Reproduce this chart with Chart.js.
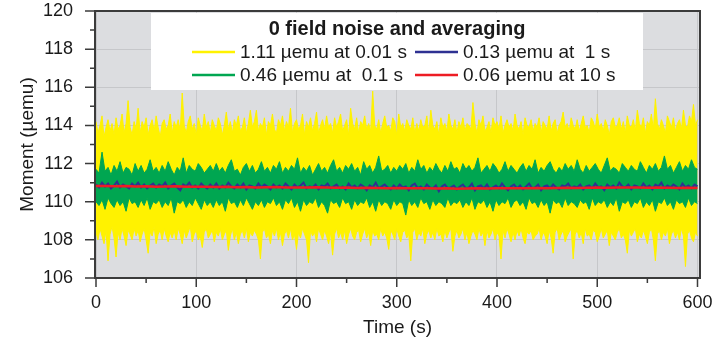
<!DOCTYPE html>
<html>
<head>
<meta charset="utf-8">
<style>
  html, body { margin: 0; padding: 0; background: #fff; }
  #noise { display: block; }
</style>
<script src="https://cdn.jsdelivr.net/npm/chart.js@4.4.1/dist/chart.umd.min.js"></script>
</head>
<body>
<canvas id="noise" width="728" height="341"></canvas>
<script>
// sampling steps (s) of the arrays below
const yellowStep = 2;
const greenStep = 3;
const blueStep = 3;
const redStep = 10;

// 0.01 s data: upper and lower envelope
const yellowHi = [
  114.2,113.6,114.0,114.5,113.4,113.9,114.3,113.7,114.1,113.5,114.4,113.8,114.0,114.6,113.6,114.1,115.3,113.9,113.5,114.2,
  113.8,114.9,113.6,114.2,113.9,114.4,113.5,114.0,114.3,113.7,114.5,113.9,113.4,114.1,114.3,113.8,114.0,114.6,113.6,114.2,
  113.9,114.3,113.7,115.7,114.0,113.6,114.2,114.5,113.8,114.1,113.5,114.4,114.0,113.7,114.6,113.9,114.2,113.6,114.3,114.0,
  113.7,114.4,114.1,113.5,114.0,114.7,113.8,114.2,113.6,114.3,114.0,114.5,113.7,113.9,114.4,113.6,114.1,114.8,113.9,114.2,
  114.8,113.7,114.1,113.9,114.4,113.5,114.2,114.0,114.6,113.8,113.6,114.3,114.0,114.5,113.7,114.2,113.9,114.9,113.6,114.1,
  114.3,113.8,114.0,114.6,113.5,114.2,113.9,114.4,113.7,114.1,114.7,113.6,114.0,114.3,113.8,114.5,113.9,114.1,113.6,114.4,
  113.9,114.2,114.6,113.7,114.0,114.3,113.5,114.9,114.1,113.8,114.4,113.6,114.2,114.0,114.5,113.8,114.1,113.7,115.8,114.0,
  113.8,114.3,113.6,114.1,114.5,113.9,114.0,113.7,114.4,114.2,113.5,114.6,113.9,114.1,113.7,114.3,114.0,113.8,114.4,113.6,
  114.1,113.7,114.3,113.9,114.0,114.5,113.6,114.8,114.0,113.8,114.2,113.5,114.4,113.9,114.1,113.7,114.6,114.0,113.8,114.3,
  113.6,114.2,113.9,114.4,113.7,114.1,114.0,113.8,115.2,114.1,113.6,114.3,114.0,114.5,113.7,113.9,114.2,113.6,114.4,114.0,
  114.2,113.8,114.5,113.6,114.0,114.3,113.9,114.1,113.7,114.6,114.0,113.8,114.2,113.5,114.4,114.0,113.9,114.3,113.7,114.1,
  113.9,114.4,113.6,114.2,114.0,113.8,114.5,113.7,114.1,114.3,113.6,114.0,114.2,114.7,113.9,114.1,113.7,114.4,114.0,113.8,
  114.3,113.7,114.1,114.5,113.9,114.0,113.6,114.4,114.2,113.8,114.6,113.9,114.1,113.7,114.3,114.0,113.5,114.2,114.4,113.9,
  114.0,114.4,113.8,114.2,113.6,114.5,114.0,113.9,114.3,113.7,114.8,114.1,113.9,114.4,113.6,114.2,114.0,114.6,113.8,115.4,
  114.1,113.8,114.3,114.0,113.6,114.5,114.2,113.9,114.4,113.7,114.1,114.3,113.8,114.8,114.0,113.9,114.5,114.2,115.1,114.0,
  114.3
];
const yellowLo = [
  108.4,108.0,108.6,108.2,107.8,108.5,106.9,108.3,108.7,108.1,107.1,108.4,108.0,108.6,108.2,107.7,108.5,108.3,108.0,108.6,
  108.2,108.5,107.9,108.3,108.6,108.0,107.3,108.4,108.2,108.7,107.8,108.3,108.5,108.0,108.6,108.2,107.9,108.4,108.1,108.5,
  108.0,108.6,108.3,107.8,108.5,108.1,108.4,108.7,107.9,108.3,108.5,108.0,108.2,107.6,108.4,108.6,108.1,108.3,108.5,107.9,
  108.4,108.2,108.6,108.0,108.3,108.5,107.45,108.2,108.6,108.0,108.4,107.8,108.3,108.5,108.1,108.6,107.9,108.4,108.2,108.5,
  108.3,108.0,107.0,108.4,108.6,108.1,108.3,107.8,108.5,108.2,108.6,108.0,108.4,107.7,108.3,108.5,108.1,108.6,108.0,108.3,
  107.5,108.4,108.1,108.6,108.3,108.0,106.8,108.5,108.2,108.4,107.9,108.6,108.3,108.0,108.5,108.2,107.8,108.4,107.2,108.3,
  108.6,108.1,108.4,108.0,108.5,107.8,108.3,108.6,108.2,108.0,108.4,108.5,107.9,108.3,108.6,108.1,108.4,107.7,108.5,108.2,
  108.3,108.0,108.6,108.2,108.4,108.1,107.5,108.5,108.3,108.0,108.6,108.2,107.9,108.4,108.5,108.1,108.3,106.9,108.4,108.6,
  108.0,108.4,108.2,108.6,107.8,108.3,108.5,108.1,108.4,108.0,108.6,108.2,108.3,107.9,108.5,108.1,108.4,108.6,107.4,108.2,
  108.5,108.1,108.3,108.6,108.0,108.4,107.8,108.2,108.5,108.3,108.0,108.6,108.2,108.4,107.7,108.5,108.1,108.3,108.6,108.0,
  108.4,108.2,107.0,108.5,108.1,108.6,108.3,107.9,108.4,108.0,108.5,108.2,108.6,108.1,107.8,108.4,108.3,108.5,108.0,108.2,
  108.3,108.6,108.0,108.4,108.2,107.8,108.5,108.1,107.3,108.4,108.6,108.0,108.3,108.5,107.9,108.2,108.4,108.6,107.0,108.3,
  108.5,108.1,108.4,107.8,108.6,108.2,108.3,108.0,108.5,108.4,107.9,108.2,108.6,108.1,108.3,108.5,107.7,108.4,108.2,108.0,
  108.4,108.6,108.1,108.3,108.0,107.3,108.5,108.2,108.4,108.6,107.9,108.3,108.1,108.5,108.2,107.8,108.4,108.6,108.0,106.9,
  108.3,108.5,108.0,108.4,108.2,108.6,107.8,108.3,108.5,108.1,108.4,108.0,108.6,108.2,106.6,108.3,108.5,108.1,107.9,108.4,
  108.2
];

// 0.1 s data: upper and lower envelope
const greenHi = [
  111.7,111.5,112.6,111.6,111.8,111.4,111.9,111.6,112.1,111.5,111.8,111.7,111.4,112.0,111.6,111.9,111.5,111.7,112.2,111.6,
  111.8,111.5,111.9,111.6,112.1,111.7,111.4,111.8,111.6,112.3,111.5,111.9,111.7,111.6,112.0,111.8,111.5,111.7,111.9,111.6,
  112.0,111.6,111.8,111.5,111.9,112.2,111.6,111.7,111.4,111.8,112.0,111.6,111.9,111.5,111.7,112.1,111.6,111.8,111.5,111.9,
  111.7,112.1,111.5,111.8,111.6,111.9,111.7,112.3,111.5,111.8,111.6,111.9,111.4,111.7,112.0,111.6,111.8,111.5,111.9,112.2,
  111.6,111.8,111.5,111.9,111.7,112.0,111.6,111.8,111.4,112.1,111.7,111.9,111.5,111.8,112.4,111.6,111.7,111.9,111.5,111.8,
  111.6,111.9,111.7,112.0,111.5,111.8,111.6,112.2,111.7,111.9,111.5,111.8,111.6,112.0,111.7,111.5,111.9,111.6,112.1,111.7,
  111.8,111.5,112.0,111.7,111.9,111.6,111.8,112.3,111.5,111.7,111.9,111.6,112.0,111.8,111.5,111.7,112.1,111.6,111.9,111.7,
  111.5,111.8,112.0,111.6,111.9,111.7,112.2,111.5,111.8,111.6,111.9,112.1,111.7,111.5,111.8,111.6,112.0,111.7,111.9,111.6,
  112.2,111.7,111.5,111.9,111.6,111.8,112.0,111.7,111.5,111.9,112.3,111.6,111.8,111.7,111.5,112.0,111.8,111.6,111.9,111.7,
  111.6,112.1,111.8,111.5,111.9,111.7,112.0,111.6,111.8,112.4,111.7,111.9,111.5,111.8,112.1,111.6,111.9,111.7,112.2,111.8,
  111.7
];
const greenLo = [
  110.0,109.8,110.1,109.6,110.2,109.9,109.7,110.1,109.8,110.0,109.5,110.2,109.9,110.0,109.7,110.1,109.8,110.2,109.6,110.0,
  109.9,110.1,109.7,110.0,109.8,110.2,109.4,110.0,109.9,110.1,109.7,110.0,109.8,110.2,109.9,109.6,110.1,109.8,110.0,109.7,
  110.1,109.8,110.0,109.5,110.2,109.9,110.0,109.7,110.1,109.8,110.2,109.9,109.6,110.0,109.8,110.1,109.7,110.0,109.9,110.2,
  109.8,110.0,109.6,110.1,109.9,110.2,109.7,110.0,109.5,110.1,109.8,110.0,109.9,110.2,109.7,110.0,109.8,109.4,110.1,109.9,
  110.0,109.7,110.2,109.9,110.0,109.6,110.1,109.8,110.0,109.9,110.2,109.7,110.0,109.5,110.1,109.8,110.0,109.9,109.6,110.1,
  109.8,110.0,109.9,109.3,110.1,109.8,110.0,109.7,110.2,109.9,110.0,109.6,110.1,109.8,110.0,109.9,109.7,110.2,109.8,110.0,
  109.9,110.1,109.7,110.0,109.8,110.2,109.6,110.0,109.9,110.1,109.7,110.0,109.5,110.1,109.8,110.0,109.9,110.2,109.7,110.0,
  110.1,109.8,110.0,109.6,110.2,109.9,110.0,109.7,110.1,109.8,110.0,109.4,110.1,109.9,110.0,109.7,110.2,109.8,110.0,109.9,
  109.7,110.1,109.9,110.0,109.6,110.2,109.8,110.0,109.9,110.1,109.7,110.0,109.8,110.2,109.5,110.0,109.9,110.1,109.7,110.0,
  109.9,110.2,109.7,110.0,109.8,110.1,109.5,110.0,109.9,110.2,109.8,110.0,109.6,110.1,109.9,110.0,109.7,110.2,109.8,110.0,
  109.9
];

// 1 s average
const blueVals = [
  110.9,110.75,111.0,110.8,110.95,110.7,110.85,111.05,110.75,110.9,110.8,110.7,110.95,110.8,111.0,110.75,110.9,110.7,110.85,110.95,
  110.75,110.9,110.8,111.0,110.7,110.85,110.95,110.75,110.6,110.9,110.8,111.0,110.75,110.85,110.7,110.95,110.8,110.7,110.9,110.75,
  110.95,110.7,110.85,110.75,111.0,110.8,110.7,110.9,110.75,110.95,110.65,110.85,110.8,110.7,110.95,110.75,110.9,110.8,110.65,110.9,
  110.75,110.85,110.7,110.95,110.8,110.65,110.9,110.75,110.85,111.0,110.7,110.8,110.75,110.9,110.65,110.85,110.8,110.95,110.7,110.8,
  110.9,110.7,110.8,110.65,110.95,110.75,110.85,110.7,110.9,110.8,110.6,110.85,110.75,111.0,110.7,110.8,110.9,110.75,110.65,110.85,
  110.7,110.9,110.75,110.8,110.6,110.85,110.95,110.7,110.8,110.65,110.9,110.75,110.7,110.85,110.55,110.8,110.9,110.7,110.75,110.85,
  110.65,110.8,110.9,110.7,110.75,110.95,110.6,110.8,110.85,110.7,110.9,110.65,110.75,110.85,110.7,110.95,110.75,110.6,110.8,110.9,
  110.7,110.85,110.65,110.8,110.95,110.7,110.75,110.9,110.6,110.8,110.85,110.7,110.9,110.75,110.65,110.85,110.8,110.95,110.7,110.8,
  110.75,110.9,110.65,110.8,110.85,110.7,110.95,110.75,110.8,110.6,110.9,110.75,110.85,110.7,111.0,110.8,110.75,110.9,110.65,110.85,
  110.8,110.7,110.95,110.75,110.85,110.65,110.9,110.8,111.0,110.7,110.85,110.75,110.9,110.8,110.65,110.95,110.75,110.85,110.7,110.9,
  110.8
];

// 10 s average
const redVals = [
  110.82,110.83,110.81,110.82,110.80,110.81,110.79,110.80,110.81,110.79,
  110.78,110.79,110.77,110.78,110.76,110.77,110.75,110.76,110.77,110.75,
  110.74,110.75,110.76,110.74,110.73,110.74,110.72,110.73,110.72,110.71,
  110.72,110.70,110.71,110.70,110.69,110.70,110.68,110.69,110.70,110.69,
  110.70,110.71,110.70,110.71,110.72,110.71,110.72,110.73,110.72,110.73,
  110.74,110.73,110.74,110.75,110.74,110.73,110.74,110.73,110.72,110.73,
  110.72
];

const xTicks = [0, 50, 100, 150, 200, 250, 300, 350, 400, 450, 500, 550, 600];
const yTicks = [106, 108, 110, 112, 114, 116, 118, 120];
const yMinor = [107, 109, 111, 113, 115, 117, 119];

const legendTitle = '0 field noise and averaging';
const legendItems = [
  { text: '1.11 \u00b5emu at 0.01 s', color: '#fff200' },
  { text: '0.13 \u00b5emu at  1 s', color: '#2e3192' },
  { text: '0.46 \u00b5emu at  0.1 s', color: '#00a651' },
  { text: '0.06 \u00b5emu at 10 s', color: '#ed1c24' }
];

const FONT = "'Liberation Sans', Arial, sans-serif";
const INK = '#1a1a1a';
const FRAME = '#3b3b3b';

const pts = (vals, step) => vals.map((v, i) => ({ x: i * step, y: v }));

function band(vals, step, color, fill, order) {
  return {
    data: pts(vals, step),
    borderColor: color,
    backgroundColor: color,
    borderWidth: 1,
    pointRadius: 0,
    fill: fill,
    order: order
  };
}

const plotFrame = {
  id: 'plotFrame',
  beforeDraw(chart) {
    const { ctx, chartArea: a } = chart;
    ctx.save();
    ctx.fillStyle = '#dcdde0';
    ctx.fillRect(a.left, a.top, a.right - a.left, a.bottom - a.top);
    ctx.restore();
  },
  afterDraw(chart) {
    const { ctx, chartArea: a, scales } = chart;
    ctx.save();
    ctx.strokeStyle = FRAME;
    ctx.lineWidth = 2;
    ctx.strokeRect(a.left, a.top, a.right - a.left, a.bottom - a.top);

    ctx.lineWidth = 1.5;
    ctx.beginPath();
    xTicks.forEach(v => {
      const x = scales.x.getPixelForValue(v);
      const len = v % 100 === 0 ? 9 : 5;
      ctx.moveTo(x, a.bottom);
      ctx.lineTo(x, a.bottom + len);
    });
    yTicks.concat(yMinor).forEach(v => {
      const y = scales.y.getPixelForValue(v);
      const len = v % 2 === 0 ? 10 : 5;
      ctx.moveTo(a.left, y);
      ctx.lineTo(a.left - len, y);
    });
    ctx.stroke();
    ctx.restore();
  }
};

const boxLegend = {
  id: 'boxLegend',
  afterDatasetsDraw(chart) {
    const { ctx, chartArea: a } = chart;
    const left = a.left + 56, top = a.top + 2;
    ctx.save();
    ctx.fillStyle = '#ffffff';
    ctx.fillRect(left, top, 492, 77);

    ctx.fillStyle = INK;
    ctx.textBaseline = 'middle';
    ctx.textAlign = 'center';
    ctx.font = 'bold 20px ' + FONT;
    ctx.fillText(legendTitle, left + 246, top + 16);

    ctx.textAlign = 'left';
    ctx.font = '19px ' + FONT;
    legendItems.forEach((it, i) => {
      const col = i % 2, row = Math.floor(i / 2);
      const x0 = left + 41 + col * 223;
      const y0 = top + 39 + row * 23;
      ctx.strokeStyle = it.color;
      ctx.lineWidth = 2.5;
      ctx.beginPath();
      ctx.moveTo(x0, y0);
      ctx.lineTo(x0 + 43, y0);
      ctx.stroke();
      ctx.fillStyle = INK;
      ctx.fillText(it.text, x0 + 48, y0 + 1);
    });
    ctx.restore();
  }
};

new Chart(document.querySelector('#noise'), {
  type: 'line',
  data: {
    datasets: [
      { data: pts(redVals, redStep), borderColor: '#ed1c24', borderWidth: 2.5, pointRadius: 0, order: 0 },
      { data: pts(blueVals, blueStep), borderColor: '#2e3192', borderWidth: 2, pointRadius: 0, order: 1 },
      band(greenHi, greenStep, '#00a651', false, 2),
      band(greenLo, greenStep, '#00a651', '-1', 2),
      band(yellowHi, yellowStep, '#fff200', false, 3),
      band(yellowLo, yellowStep, '#fff200', '-1', 3)
    ]
  },
  options: {
    responsive: false,
    animation: false,
    devicePixelRatio: 1,
    layout: { padding: { top: 11, right: 28, left: 0, bottom: 0 } },
    plugins: {
      legend: { display: false },
      tooltip: { enabled: false }
    },
    elements: { line: { tension: 0 } },
    scales: {
      x: {
        type: 'linear',
        min: -1,
        max: 602.5,
        afterBuildTicks: s => { s.ticks = xTicks.map(v => ({ value: v })); },
        afterFit: s => { s.height = 63; s.paddingLeft = 0; s.paddingRight = 0; },
        border: { display: false },
        grid: {
          drawTicks: false,
          color: c => (c.tick && c.tick.value % 100 === 0) ? '#c6c7ca' : 'rgba(0,0,0,0)'
        },
        ticks: {
          autoSkip: false,
          maxRotation: 0,
          padding: 14,
          color: INK,
          font: { family: FONT, size: 18 },
          callback: v => (v % 100 === 0 ? String(v) : '')
        },
        title: {
          display: true,
          text: 'Time (s)',
          color: INK,
          font: { family: FONT, size: 19 },
          padding: { top: 0, bottom: 2 }
        }
      },
      y: {
        min: 106,
        max: 120,
        afterBuildTicks: s => { s.ticks = yTicks.map(v => ({ value: v })); },
        afterFit: s => { s.width = 95; s.paddingTop = 0; s.paddingBottom = 0; },
        border: { display: false },
        grid: { drawTicks: false, color: '#c6c7ca' },
        ticks: {
          padding: 22,
          color: INK,
          font: { family: FONT, size: 18 }
        },
        title: {
          display: true,
          text: 'Moment (\u00b5emu)',
          color: INK,
          font: { family: FONT, size: 19 },
          padding: { top: 16, bottom: 0 }
        }
      }
    }
  },
  plugins: [plotFrame, boxLegend]
});
</script>
</body>
</html>
